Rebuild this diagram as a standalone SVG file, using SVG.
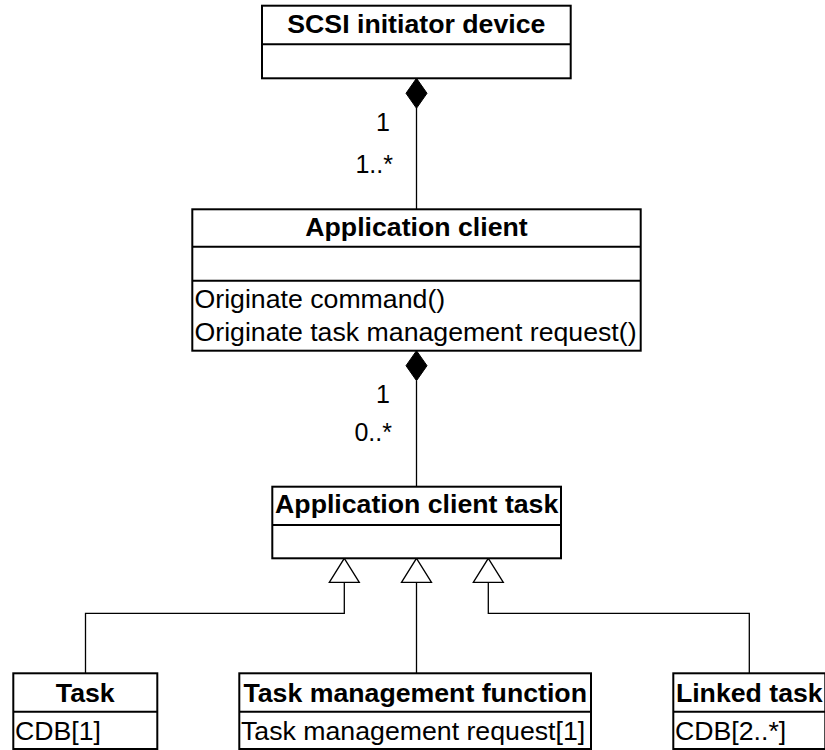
<svg xmlns="http://www.w3.org/2000/svg" width="825" height="750" viewBox="0 0 825 750">
<style>
  .box { fill: #fff; stroke: #000; stroke-width: 2; }
  .div { stroke: #000; stroke-width: 2; }
  .title { font-family: "Liberation Sans", Arial, sans-serif; font-weight: bold; font-size: 26.7px; fill: #000; text-anchor: middle; }
  .attr { font-family: "Liberation Sans", Arial, sans-serif; font-size: 26.7px; fill: #000; }
  .mult { font-family: "Liberation Sans", Arial, sans-serif; font-size: 25px; fill: #000; text-anchor: end; }
  .conn { fill: none; stroke: #000; stroke-width: 1.3; }
  .diamond { fill: #000; stroke: #000; stroke-width: 1; }
  .tri { fill: #fff; stroke: #000; stroke-width: 1.3; }
</style>
<rect width="825" height="750" fill="#fff"/>

<g id="connectors">
  <line class="conn" x1="416.5" y1="108" x2="416.5" y2="209.3"/>
  <polygon class="diamond" points="416.5,78.3 427,93.3 416.5,108.3 406,93.3"/>
  <line class="conn" x1="416.5" y1="380.5" x2="416.5" y2="486.7"/>
  <polygon class="diamond" points="416.5,350.7 427,365.7 416.5,380.7 406,365.7"/>
  <path class="conn" d="M344.3,582.3 V613.3 H85.5 V673.3"/>
  <path class="conn" d="M416.5,582.3 V673.3"/>
  <path class="conn" d="M488.3,582.3 V613.3 H749.3 V673.3"/>
  <polygon class="tri" points="344.3,558.3 359.3,582.3 329.3,582.3"/>
  <polygon class="tri" points="416.5,558.3 431.5,582.3 401.5,582.3"/>
  <polygon class="tri" points="488.3,558.3 503.3,582.3 473.3,582.3"/>
  <text class="mult" x="390" y="130.5">1</text>
  <text class="mult" x="393" y="173.3">1..*</text>
  <text class="mult" x="390" y="403.3">1</text>
  <text class="mult" x="392" y="440.7">0..*</text>
</g>

<g id="scsi-initiator-device">
  <rect class="box" x="262" y="5.7" width="308.7" height="72.6"/>
  <line class="div" x1="262" y1="44.3" x2="570.7" y2="44.3"/>
  <text class="title" x="416.3" y="33.3">SCSI initiator device</text>
</g>

<g id="application-client">
  <rect class="box" x="192.3" y="209.3" width="448.4" height="141.4"/>
  <line class="div" x1="192.3" y1="246.7" x2="640.7" y2="246.7"/>
  <line class="div" x1="192.3" y1="280.7" x2="640.7" y2="280.7"/>
  <text class="title" x="416.5" y="236">Application client</text>
  <text class="attr" x="194.5" y="308">Originate command()</text>
  <text class="attr" x="194.5" y="340.5">Originate task management request()</text>
</g>

<g id="application-client-task">
  <rect class="box" x="272.3" y="486.7" width="288.7" height="71.6"/>
  <line class="div" x1="272.3" y1="525" x2="561" y2="525"/>
  <text class="title" x="416.7" y="513.3">Application client task</text>
</g>

<g id="task">
  <rect class="box" x="13.3" y="673.3" width="144" height="75.7"/>
  <line class="div" x1="13.3" y1="711.7" x2="157.3" y2="711.7"/>
  <text class="title" x="85.3" y="701.7">Task</text>
  <text class="attr" x="15" y="739.5">CDB[1]</text>
</g>

<g id="task-management-function">
  <rect class="box" x="239.3" y="673.3" width="351.7" height="75.7"/>
  <line class="div" x1="239.3" y1="711.7" x2="591" y2="711.7"/>
  <text class="title" x="415.2" y="701.7">Task management function</text>
  <text class="attr" x="241" y="739.5">Task management request[1]</text>
</g>

<g id="linked-task">
  <rect class="box" x="673.3" y="673.3" width="152" height="75.7"/>
  <line class="div" x1="673.3" y1="711.7" x2="825" y2="711.7"/>
  <text class="title" x="749.3" y="701.7">Linked task</text>
  <text class="attr" x="675" y="739.5">CDB[2..*]</text>
</g>
</svg>
